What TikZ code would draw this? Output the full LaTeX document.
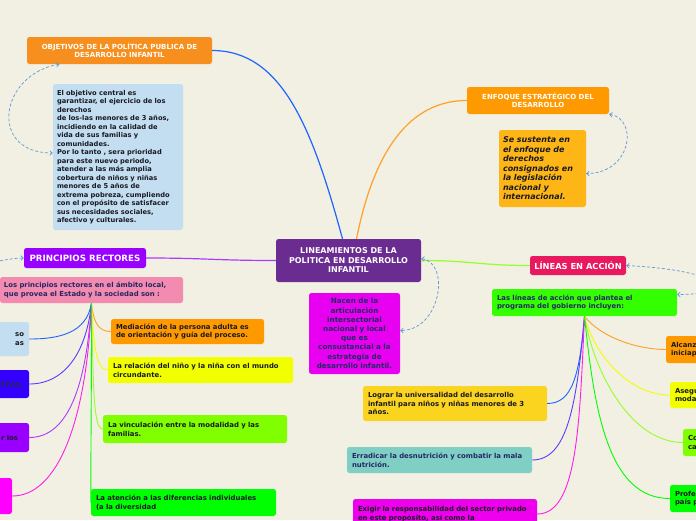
\documentclass[tikz,border=0pt]{standalone}
\usepackage{fontspec}
\setmainfont{DejaVu Sans}
\usetikzlibrary{arrows.meta,positioning}
\definecolor{fondo}{RGB}{242,239,227}
\definecolor{morado}{RGB}{106,44,145}
\definecolor{naranja}{RGB}{247,143,30}
\definecolor{naranjab}{RGB}{255,153,0}
\definecolor{celeste}{RGB}{195,222,240}
\definecolor{fucsia}{RGB}{232,0,240}
\definecolor{ambar}{RGB}{253,182,21}
\definecolor{violeta}{RGB}{153,0,255}
\definecolor{rosa}{RGB}{243,139,176}
\definecolor{azulfuerte}{RGB}{51,0,255}
\definecolor{magenta2}{RGB}{255,0,255}
\definecolor{amarillo}{RGB}{242,255,0}
\definecolor{lima}{RGB}{128,255,0}
\definecolor{verde}{RGB}{0,255,0}
\definecolor{carmesi}{RGB}{232,25,95}
\definecolor{verdeb}{RGB}{51,255,0}
\definecolor{oro}{RGB}{250,212,30}
\definecolor{turquesa}{RGB}{127,207,196}
\definecolor{magenta3}{RGB}{238,0,238}
\definecolor{tinta}{RGB}{25,25,35}
\definecolor{tintazul}{RGB}{35,40,100}
\definecolor{enlazul}{RGB}{91,155,213}
\definecolor{azulr}{RGB}{30,100,255}
\definecolor{indigor}{RGB}{90,60,255}
\definecolor{violetar}{RGB}{170,60,255}
\definecolor{magentar}{RGB}{255,30,230}
\definecolor{naranjar}{RGB}{255,160,40}
\definecolor{limar}{RGB}{150,255,40}
\newcommand{\fz}[2]{\fontsize{#1}{#2}\selectfont\bfseries}

\begin{document}
\begin{tikzpicture}[
  x=1pt,y=-1pt,
  idea/.style={rounded corners=2.5pt,inner xsep=5pt,inner ysep=2pt,align=center},
  nota/.style={idea,align=left},
  rama/.style={line width=0.9pt},
  enlace/.style={draw=enlazul,line width=0.7pt,dash pattern=on 3pt off 2pt,<->},
  >={Straight Barb[length=2.5pt,width=4.5pt]},
]
\useasboundingbox (0,0) rectangle (696,520);
\clip (0,0) rectangle (696,520);
\fill[fondo] (0,0) rectangle (696,520);

% nodo central
\node[idea,fill=morado,text=white,minimum width=145pt,minimum height=43pt,font=\fz{8}{9.5}] (centro) at (348.5,260.5) {LINEAMIENTOS DE LA\\POLITICA EN DESARROLLO\\INFANTIL};
\node[idea,fill=fucsia,text=tintazul,inner xsep=4pt,text width=83pt,minimum height=81pt,font=\fz{7.2}{9.2}] (nacen) at (354.5,333.5) {Nacen de la\\articulación\\intersectorial\\nacional y local\\que es\\consustancial a la\\estrategia de\\desarrollo infantil.};

% objetivos
\node[idea,fill=naranja,text=white,minimum width=185pt,minimum height=27pt,font=\fz{7}{8.5}] (obj) at (119.5,50.5) {OBJETIVOS DE LA POLÍTICA PUBLICA DE\\DESARROLLO INFANTIL};
\node[nota,fill=celeste,text=tinta,text width=122pt,inner xsep=4pt,minimum height=146pt,font=\fz{6.7}{8.5}] (objtxt) at (118,157) {El objetivo central es\\garantizar, el ejercicio de los\\derechos\\de los-las menores de 3 años,\\incidiendo en la calidad de\\vida de sus familias y\\comunidades.\\Por lo tanto , sera prioridad\\para este nuevo periodo,\\atender a las más amplia\\cobertura de niños y niñas\\menores de 5 años de\\extrema pobreza, cumpliendo\\con el propósito de satisfacer\\sus necesidades sociales,\\afectivo y culturales.};

% enfoque
\node[idea,fill=naranjab,text=white,minimum width=142pt,minimum height=27pt,font=\fz{7}{8.5}] (enfoque) at (538,100.5) {ENFOQUE ESTRATÉGICO DEL\\DESARROLLO};
\node[nota,fill=ambar,text=tinta,text width=79pt,inner xsep=4pt,minimum height=77pt,font=\fz{8}{9.5}\itshape] (sust) at (542.5,168.5) {Se sustenta en\\el enfoque de\\derechos\\consignados en\\la legislación\\nacional y\\internacional.};

% principios rectores
\node[idea,fill=violeta,text=white,minimum width=122pt,minimum height=20pt,inner xsep=2pt,font=\fz{8.7}{10}] (princ) at (85,258) {PRINCIPIOS RECTORES};
\node[nota,fill=rosa,text=tintazul,text width=175pt,inner xsep=4pt,minimum height=26pt,font=\fz{6.9}{8.7}] (princtxt) at (91.5,290) {Los principios rectores en el ámbito local,\\que provea el Estado y la sociedad son :};
\node[idea,align=right,fill=celeste,text=tinta,text width=174pt,minimum height=34pt,font=\fz{6.9}{8.7}] (p1) at (-63,339) {so\\as};
\node[idea,align=right,fill=azulfuerte,text=tintazul,text width=174pt,minimum height=28pt,font=\fz{9}{10}] (p2) at (-63,384) {ativo.};
\node[idea,align=right,fill=violeta,text=tinta,text width=174pt,minimum height=29pt,font=\fz{6.9}{8.7}] (p3) at (-63,437.5) {r los\hspace*{6pt}};
\node[idea,fill=magenta2,minimum width=167pt,minimum height=36pt] (p4) at (-71.5,496) {};
\node[nota,fill=naranjab,text=tinta,text width=143pt,minimum height=25pt,font=\fz{6.9}{8.7}] (p5) at (187.5,331.5) {Mediación de la persona adulta es\\de orientación y guía  del proceso.};
\node[nota,fill=amarillo,text=tinta,text width=175pt,minimum height=26pt,font=\fz{6.9}{8.7}] (p6) at (200.5,370) {La relación del niño  y la niña con el mundo\\circundante.};
\node[nota,fill=lima,text=tinta,text width=174pt,minimum height=28pt,font=\fz{6.9}{8.7}] (p7) at (195,429) {La vinculación entre la modalidad y las\\familias.};
\node[nota,fill=verde,text=tinta,text width=175pt,minimum height=27pt,font=\fz{6.9}{8.7}] (p8) at (183.5,502.5) {La atención a las diferencias individuales\\(a la diversidad};

% lineas en accion
\node[idea,fill=carmesi,text=white,minimum width=96pt,minimum height=19pt,inner xsep=2pt,font=\fz{8.3}{10}] (lineas) at (578,265.5) {LÍNEAS EN ACCIÓN};
\node[nota,fill=verdeb,text=tintazul,text width=175pt,minimum height=27pt,font=\fz{6.9}{8.7}] (lintxt) at (584.5,302.5) {Las líneas de acción que plantea el\\programa del gobierno incluyen:};
\node[nota,fill=oro,text=tinta,text width=174pt,minimum height=35pt,font=\fz{6.9}{8.7}] (l1) at (455,403.5) {Lograr la universalidad  del desarrollo\\infantil para niños y niñas menores de 3\\años.};
\node[nota,fill=turquesa,text=tintazul,text width=175pt,minimum height=26pt,font=\fz{6.9}{8.7}] (l2) at (439.5,460) {Erradicar la desnutrición y combatir la mala\\nutrición.};
\node[nota,fill=magenta3,text=tinta,text width=174pt,minimum height=30pt,font=\fz{6.9}{8.7}] (l3) at (445,514) {Exigir la  responsabilidad del sector privado\\en este propósito, así como la};
\node[nota,fill=naranjab,text=tinta,text width=174pt,minimum height=27pt,font=\fz{6.9}{8.7}] (l4) at (758,349.5) {Alcanz\\iniciap};
\node[nota,fill=amarillo,text=tinta,text width=174pt,minimum height=26pt,font=\fz{6.9}{8.7}] (l5) at (762,395) {Asegu\\moda};
\node[nota,fill=lima,text=tinta,text width=174pt,minimum height=27pt,font=\fz{6.9}{8.7}] (l6) at (775,442.5) {Co\\ca};
\node[nota,fill=verde,text=tinta,text width=174pt,minimum height=27pt,font=\fz{6.9}{8.7}] (l7) at (762,498.5) {Profe\\país p};

% ramas del centro
\draw[rama,draw=azulr,line width=1.2pt] (obj.east) .. controls +(70,0) and +(-30,-110) .. ([xshift=-6pt]centro.north);
\draw[rama,draw=naranjar,line width=1.2pt] ([xshift=8pt]centro.north) .. controls +(20,-100) and +(-50,0) .. (enfoque.west);
\draw[rama,draw=violetar,line width=1.2pt] (centro.west) .. controls +(-60,0) and +(60,0) .. (princ.east);
\draw[rama,draw=limar,line width=1.2pt] (centro.east) .. controls +(50,0) and +(-50,0) .. (lineas.west);

% ramas de principios
\draw[rama,draw=azulr] (princtxt.south) .. controls +(-5,30) and +(30,0) .. (p1.east);
\draw[rama,draw=indigor] (princtxt.south) .. controls +(-5,50) and +(35,0) .. (p2.east);
\draw[rama,draw=violetar] (princtxt.south) .. controls +(-5,80) and +(40,0) .. (p3.east);
\draw[rama,draw=magentar] (princtxt.south) .. controls +(-5,120) and +(45,0) .. (p4.east);
\draw[rama,draw=naranjar] (princtxt.south) .. controls +(2,20) and +(-12,0) .. (p5.west);
\draw[rama,draw=amarillo] (princtxt.south) .. controls +(2,40) and +(-12,0) .. (p6.west);
\draw[rama,draw=limar] (princtxt.south) .. controls +(2,80) and +(-10,0) .. (p7.west);
\draw[rama,draw=verde] (princtxt.south) .. controls +(0,100) and +(0,-60) .. (p8.west);

% ramas de lineas
\draw[rama,draw=azulr] (lintxt.south) .. controls +(-5,60) and +(25,0) .. (l1.east);
\draw[rama,draw=indigor] (lintxt.south) .. controls +(-8,90) and +(35,0) .. (l2.east);
\draw[rama,draw=magentar] (lintxt.south) .. controls +(-5,110) and +(40,0) .. (l3.east);
\draw[rama,draw=naranjar] (lintxt.south) .. controls +(15,20) and +(-30,0) .. (l4.west);
\draw[rama,draw=amarillo] (lintxt.south) .. controls +(10,40) and +(-40,0) .. (l5.west);
\draw[rama,draw=limar] (lintxt.south) .. controls +(10,60) and +(-50,0) .. (l6.west);
\draw[rama,draw=verde] (lintxt.south) .. controls +(10,100) and +(-60,0) .. (l7.west);

% enlaces punteados
\coordinate (entrada) at (-30,264);
\draw[enlace,->] (entrada) .. controls +(20,0) and +(-15,0) .. (princ.west);
\draw[enlace] ([xshift=-60pt]obj.south) .. controls +(-60,10) and +(-65,0) .. ([yshift=4pt]objtxt.west);
\draw[enlace] ([yshift=2pt]centro.east) .. controls +(30,5) and +(40,0) .. ([yshift=3pt]nacen.east);
\draw[enlace] (enfoque.south east) .. controls +(30,5) and +(45,0) .. ([yshift=-5pt]sust.east);
\draw[enlace] (lineas.east) .. controls +(100,5) and +(60,0) .. ([yshift=8pt]lintxt.east);

\end{tikzpicture}
\end{document}
